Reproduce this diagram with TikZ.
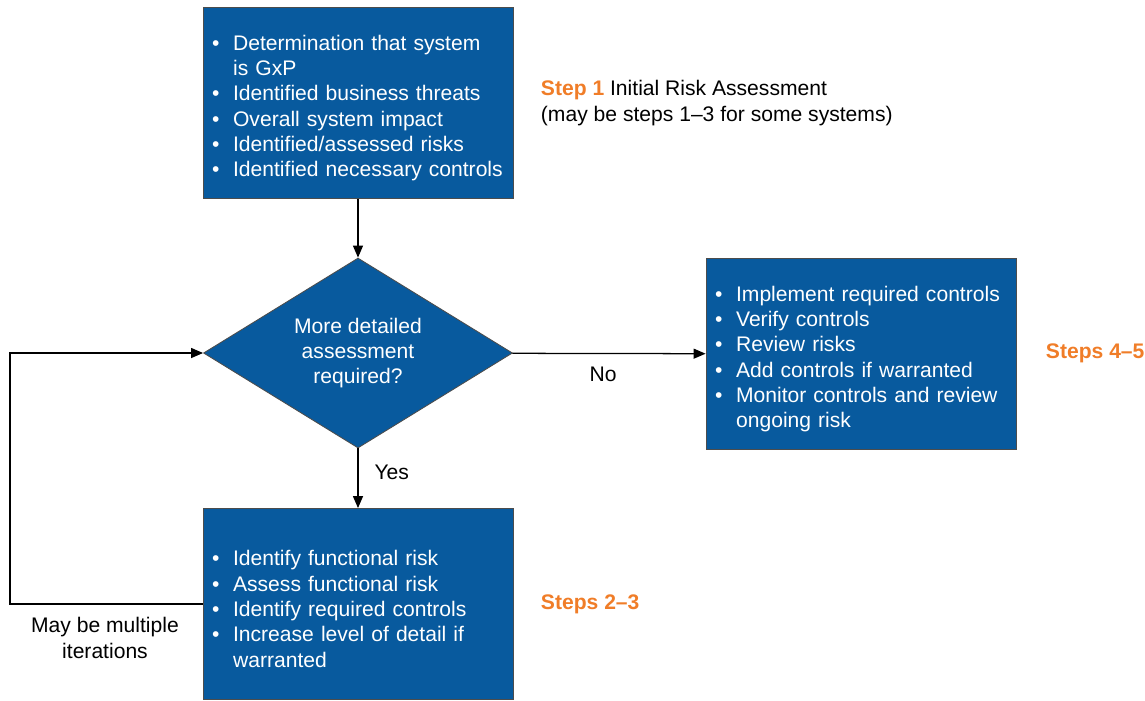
\documentclass[tikz,border=0pt]{standalone}
\usepackage{fontspec}
\setmainfont{Liberation Sans}
\usepackage{tikz}
\usetikzlibrary{arrows.meta, shapes.geometric}
\definecolor{riskblue}{RGB}{8,90,158}
\definecolor{steporange}{RGB}{240,125,40}
\newlength{\pxl}
\setlength{\pxl}{0.025cm}
% one bullet line, and its indented continuation line
\newcommand{\bitem}[1]{\par\noindent\makebox[1em][l]{\textbullet}#1}
\newcommand{\bcont}[1]{\par\noindent\hspace*{1em}#1}
\tikzset{
    stepbox/.style={rectangle, fill=riskblue, draw=black!70, line width=0.6pt, text=white,
        minimum width=310*\pxl, minimum height=191*\pxl, text width=292*\pxl,
        align=left, inner sep=0pt, font=\fontsize{15}{18}\selectfont},
    decision/.style={diamond, aspect=1.6, fill=riskblue, draw=black!70, line width=0.6pt, text=white,
        minimum width=309*\pxl, minimum height=190*\pxl, inner sep=0pt,
        align=center, font=\fontsize{15}{18}\selectfont},
    flow/.style={line width=0.9pt, -{Triangle[length=0.3cm, width=0.25cm]}},
    graphlabel/.style={align=center, font=\fontsize{15}{18}\selectfont},
    steplabel/.style={align=left, font=\fontsize{15}{18}\selectfont\bfseries, text=steporange}
}

\begin{document}
\begin{tikzpicture}[x=0.025cm, y=-0.025cm]
    \useasboundingbox (0,0) rectangle (1145,700);

    % ---------------- boxes ----------------
    \node[stepbox] (initial) at (358,103) {%
        \bitem{Determination that system}%
        \bcont{is GxP}%
        \bitem{Identified business threats}%
        \bitem{Overall system impact}%
        \bitem{Identified/assessed risks}%
        \bitem{Identified necessary controls}};

    \node[decision] (detail) at (358,353) {More detailed\\assessment\\required?};

    \node[stepbox] (implement) at (861,354) {%
        \bitem{Implement required controls}%
        \bitem{Verify controls}%
        \bitem{Review risks}%
        \bitem{Add controls if warranted}%
        \bitem{Monitor controls and review}%
        \bcont{ongoing risk}};

    \node[stepbox] (functional) at (358,604) {%
        \bitem{Identify functional risk}%
        \bitem{Assess functional risk}%
        \bitem{Identify required controls}%
        \bitem{Increase level of detail if}%
        \bcont{warranted}};

    % ---------------- labels ----------------
    \node[graphlabel, align=left, anchor=west] (stepOne) at (536,103)
        {{\bfseries\color{steporange}Step 1} Initial Risk Assessment\\(may be steps 1--3 for some systems)};
    \node[steplabel, anchor=west] (stepFour) at (1041,353) {Steps 4--5};
    \node[steplabel, anchor=west] (stepTwo) at (536,604) {Steps 2--3};
    \node[graphlabel] (iterations) at (105,638) {May be multiple\\iterations};

    % ---------------- connectors ----------------
    \coordinate (back) at (10,353);
    \draw[flow] (initial) -- (detail);
    \draw[flow] (detail) -- node[graphlabel, pos=0.47, below=6pt] (no) {No} (implement);
    \draw[flow] (detail) -- node[graphlabel, pos=0.4, right=8pt] (yes) {Yes} (functional);
    \draw[flow] (functional.west) -| (back) -- (detail.west);
\end{tikzpicture}
\end{document}
